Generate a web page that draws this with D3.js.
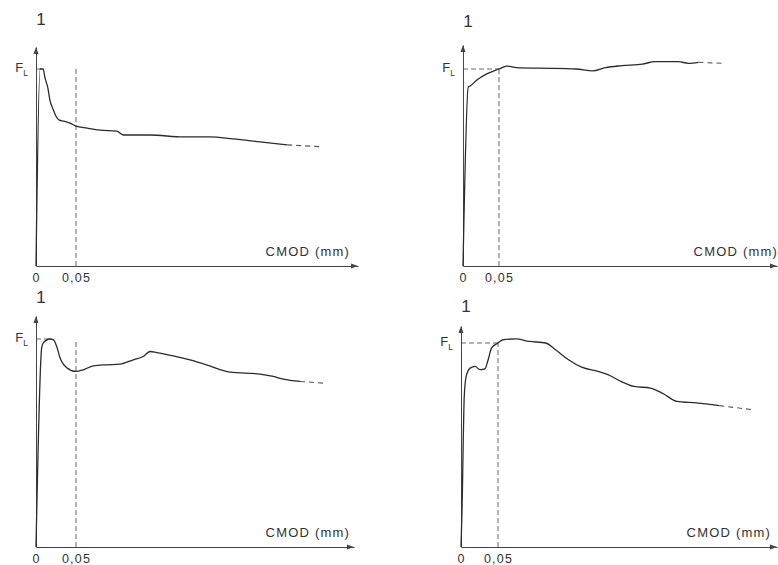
<!DOCTYPE html>
<html>
<head>
<meta charset="utf-8">
<script src="https://cdn.jsdelivr.net/npm/d3@7"></script>
<style>
  body { margin: 0; background: #fff; }
  svg { display: block; }
</style>
</head>
<body>
<div id="chart"></div>
<script>
"use strict";

// x = CMOD (mm), y = load relative to F_L
const curve1 = [[0, 0], [0.005, 1.0], [0.009, 1.0], [0.011, 0.96], [0.015, 0.9], [0.0175, 0.84],
  [0.021, 0.8], [0.025, 0.76], [0.029, 0.74], [0.035, 0.735], [0.0425, 0.725], [0.05, 0.71],
  [0.064, 0.7], [0.08, 0.69], [0.101, 0.685], [0.109, 0.665], [0.1425, 0.665], [0.184, 0.655],
  [0.2175, 0.655], [0.246, 0.645], [0.28, 0.63], [0.314, 0.615]];
const tail1 = [[0.314, 0.615], [0.3575, 0.605]];

const curve2 = [[0, 0], [0.0073, 0.909], [0.01, 0.914], [0.0193, 0.944], [0.033, 0.975], [0.05, 1.0],
  [0.0606, 1.015], [0.0744, 1.007], [0.1065, 1.004], [0.157, 1.0], [0.18, 0.99], [0.198, 1.007],
  [0.221, 1.017], [0.249, 1.025], [0.267, 1.037], [0.299, 1.037], [0.313, 1.029], [0.327, 1.034]];
const tail2 = [[0.327, 1.034], [0.359, 1.029]];

const curve3 = [[0, 0], [0.0071, 0.957], [0.0091, 0.981], [0.0175, 1.0], [0.0216, 0.997], [0.0259, 0.964],
  [0.03, 0.91], [0.0384, 0.862], [0.05, 0.844], [0.0591, 0.852], [0.0716, 0.871], [0.0884, 0.876],
  [0.105, 0.879], [0.1216, 0.9], [0.134, 0.916], [0.1425, 0.94], [0.151, 0.935], [0.1716, 0.919],
  [0.1925, 0.9], [0.213, 0.876], [0.2425, 0.841], [0.28, 0.831], [0.2966, 0.82], [0.309, 0.807],
  [0.33, 0.796]];
const tail3 = [[0.33, 0.796], [0.359, 0.788]];

const curve4 = [[0, 0], [0.0013, 0.168], [0.0044, 0.738], [0.007, 0.836], [0.0124, 0.877], [0.019, 0.885],
  [0.0257, 0.869], [0.0323, 0.873], [0.0367, 0.918], [0.0412, 0.975], [0.05, 1.0], [0.0566, 1.016],
  [0.0745, 1.02], [0.0922, 1.008], [0.1144, 1.0], [0.1277, 0.967], [0.1453, 0.918], [0.163, 0.882],
  [0.1852, 0.861], [0.1985, 0.845], [0.2162, 0.812], [0.234, 0.787], [0.256, 0.779], [0.274, 0.75],
  [0.2916, 0.714], [0.318, 0.706], [0.349, 0.693]];
const tail4 = [[0.349, 0.693], [0.394, 0.673]];

// CMOD where F_L is reached (end of the horizontal dashed line)
const flX = [0.009, 0.05, 0.0175, 0.05];
const titles = ["1", "1", "1", "1"];
const xTicks = [0, 0.05];
const xTickLabels = ["0", "0,05"];
const xLabel = "CMOD (mm)";

// page layout of each panel (pixels)
const layout = [
  { x0: 36, x05: 76, xEnd: 358, y0: 266, yFL: 69, yTop: 47, titleY: 25, labelEnd: 350, labelY: 256 },
  { x0: 463, x05: 499, xEnd: 777, y0: 266, yFL: 69, yTop: 45, titleY: 27, labelEnd: 778, labelY: 256 },
  { x0: 36, x05: 76, xEnd: 354, y0: 547, yFL: 339, yTop: 316, titleY: 303, labelEnd: 350, labelY: 537 },
  { x0: 461, x05: 498, xEnd: 777, y0: 547, yFL: 343, yTop: 326, titleY: 312, labelEnd: 771, labelY: 537 }
];

const curves = [curve1, curve2, curve3, curve4];
const tails = [tail1, tail2, tail3, tail4];

const W = 778, H = 565;
const ink = "#2b2b2b";
const font = "'Liberation Sans', Arial, sans-serif";

const svg = d3.select("#chart").append("svg")
  .attr("width", W).attr("height", H)
  .attr("viewBox", `0 0 ${W} ${H}`);

layout.forEach((p, i) => {
  const g = svg.append("g");

  // scales: 0.05 mm and F_L are pinned to the scan positions
  const x0 = d3.scaleLinear().domain([0, 0.05]).range([p.x0, p.x05]);
  const y0 = d3.scaleLinear().domain([0, 1]).range([p.y0, p.yFL]);
  const x = d3.scaleLinear().domain([0, x0.invert(p.xEnd)]).range([p.x0, p.xEnd]);
  const y = d3.scaleLinear().domain([0, y0.invert(p.yTop)]).range([p.y0, p.yTop]);

  // axes
  const ax = g.append("g")
    .attr("transform", `translate(0,${p.y0})`)
    .call(d3.axisBottom(x).tickValues(xTicks)
      .tickFormat((d, j) => xTickLabels[j]).tickSize(0).tickPadding(7));
  ax.select(".domain").attr("stroke", "#444").attr("stroke-width", 1);
  ax.selectAll("text")
    .attr("font-family", font).attr("font-size", 12.5)
    .attr("letter-spacing", 1.2).attr("fill", "#333");

  const ay = g.append("g")
    .attr("transform", `translate(${p.x0},0)`)
    .call(d3.axisLeft(y).tickValues([]).tickSizeOuter(0));
  ay.select(".domain").attr("stroke", "#444").attr("stroke-width", 1);

  // arrow heads
  const xe = x.range()[1], yt = y.range()[1];
  g.append("path")
    .attr("d", `M${xe},${p.y0} l-7,-2.5 l0,5 Z`)
    .attr("fill", "#444");
  g.append("path")
    .attr("d", `M${p.x0},${yt} l-2.5,7 l5,0 Z`)
    .attr("fill", "#444");

  // dashed guides: 0.05 mm and F_L
  g.append("line")
    .attr("x1", x(0.05)).attr("x2", x(0.05))
    .attr("y1", y(0)).attr("y2", y(1))
    .attr("stroke", "#555").attr("stroke-width", 0.9)
    .attr("stroke-dasharray", "5,3");
  g.append("line")
    .attr("x1", x(0)).attr("x2", x(flX[i]))
    .attr("y1", y(1)).attr("y2", y(1))
    .attr("stroke", "#555").attr("stroke-width", 0.9)
    .attr("stroke-dasharray", "5,3");

  const line = d3.line().x(d => x(d[0])).y(d => y(d[1]));

  // load curve
  g.append("path")
    .datum(curves[i])
    .attr("d", line.curve(d3.curveMonotoneX))
    .attr("fill", "none")
    .attr("stroke", ink)
    .attr("stroke-width", 1.3)
    .attr("stroke-linejoin", "round");

  g.append("path")
    .datum(tails[i])
    .attr("d", line.curve(d3.curveLinear))
    .attr("fill", "none")
    .attr("stroke", "#555")
    .attr("stroke-width", 1.1)
    .attr("stroke-dasharray", "5,4");

  // F_L label
  const fl = g.append("text")
    .attr("x", p.x0 - 8).attr("y", y(1) + 3)
    .attr("text-anchor", "end")
    .attr("font-family", font).attr("font-size", 13).attr("fill", "#333");
  fl.append("tspan").text("F");
  fl.append("tspan").attr("font-size", 8.5).attr("dy", 4).text("L");

  // panel number
  g.append("text")
    .attr("x", p.x0 + 5).attr("y", p.titleY)
    .attr("text-anchor", "middle")
    .attr("font-family", font).attr("font-size", 17).attr("fill", "#333")
    .text(titles[i]);

  // axis title
  g.append("text")
    .attr("x", p.labelEnd).attr("y", p.labelY)
    .attr("text-anchor", "end")
    .attr("font-family", font).attr("font-size", 13)
    .attr("letter-spacing", 1.2).attr("fill", "#333")
    .text(xLabel);
});
</script>
</body>
</html>
